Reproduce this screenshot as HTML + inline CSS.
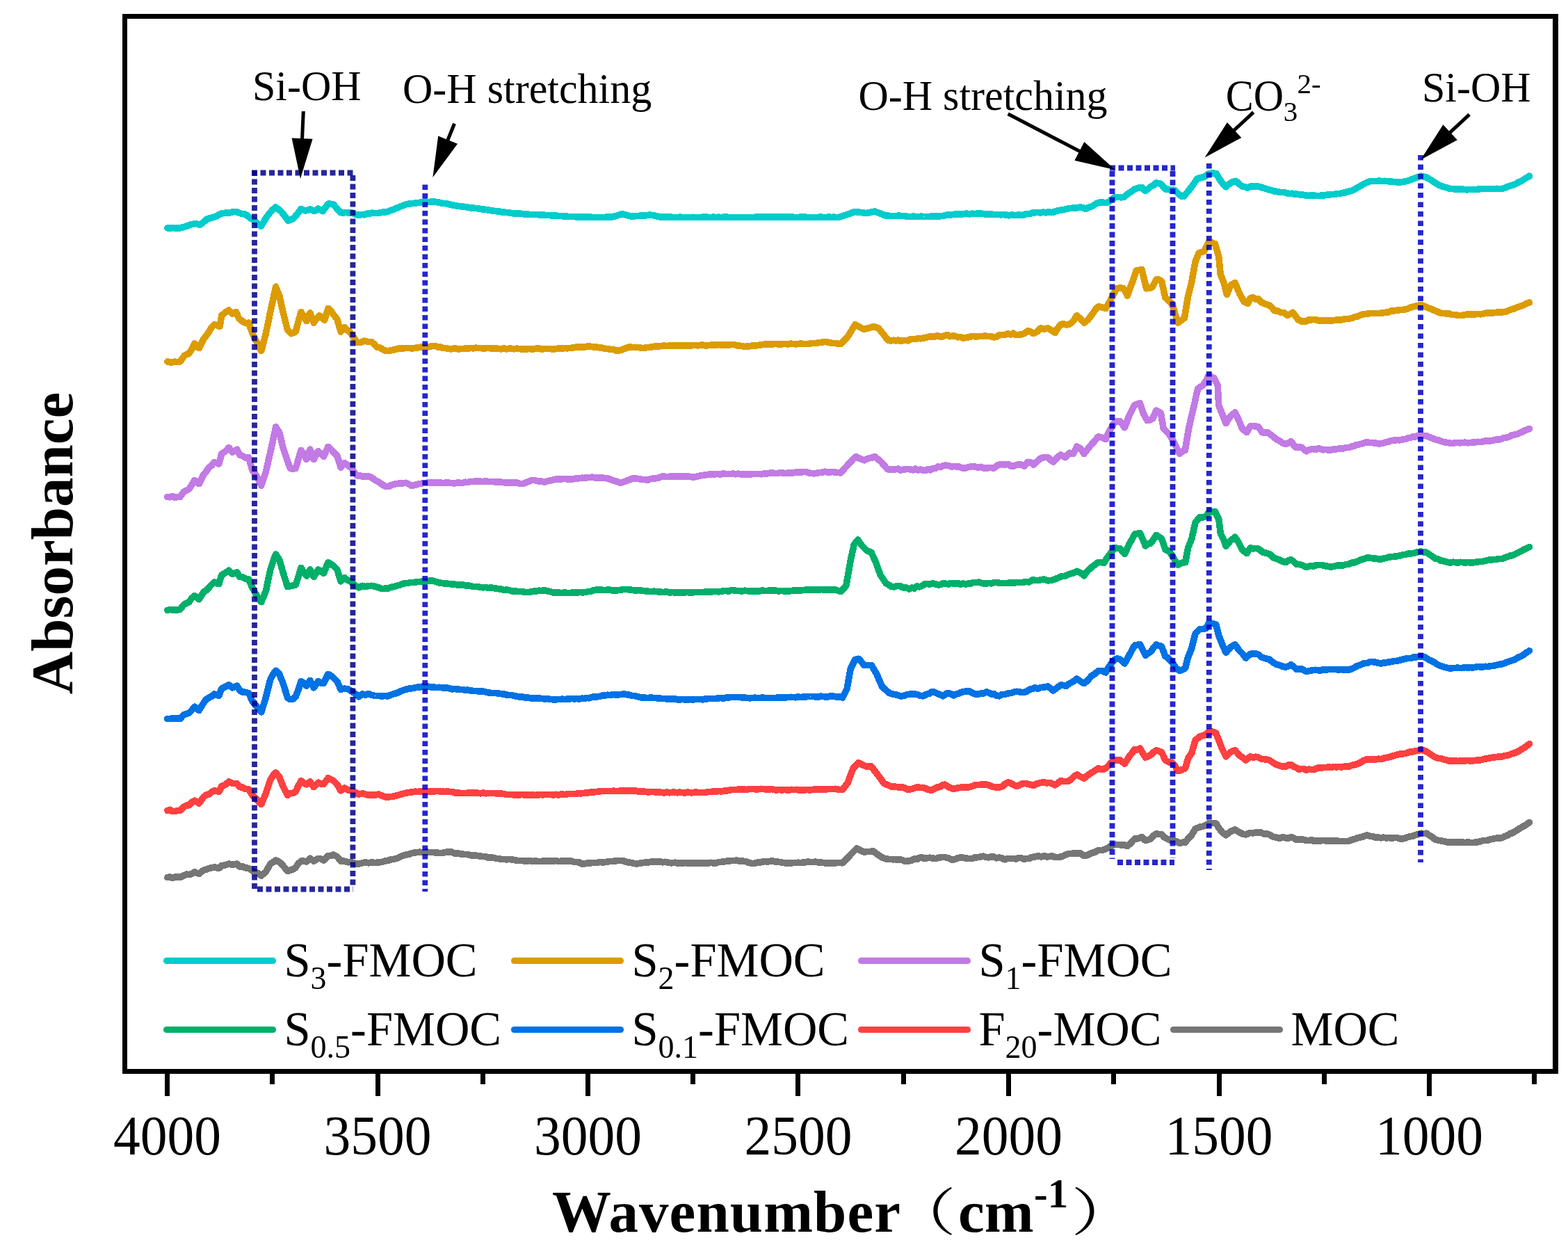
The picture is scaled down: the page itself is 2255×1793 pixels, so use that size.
<!DOCTYPE html><html><head><meta charset="utf-8"><style>html,body{margin:0;padding:0;background:#fff;overflow:hidden}svg{display:block} text{font-family:"Liberation Serif","Noto Serif CJK SC",serif;fill:#000}</style></head><body>
<svg width="2255" height="1793" viewBox="0 0 2255 1793">
<rect width="2255" height="1793" fill="#fff"/>
<path d="M240.8,1261.6 L244.4,1261.0 L248.1,1262.7 L251.7,1260.9 L255.3,1261.0 L259.0,1261.6 L264.2,1259.0 L268.1,1257.1 L271.9,1257.7 L275.8,1256.5 L279.7,1253.8 L286.2,1256.4 L292.7,1251.2 L296.6,1250.2 L300.5,1248.6 L304.4,1247.7 L308.3,1246.8 L314.8,1248.6 L318.7,1244.7 L323.9,1243.8 L329.1,1242.1 L334.3,1243.4 L340.8,1242.1 L344.7,1246.0 L348.6,1245.7 L352.5,1247.8 L356.4,1248.2 L360.3,1249.9 L365.5,1253.8 L370.6,1255.3 L375.8,1259.0 L382.3,1253.8 L388.8,1242.1 L392.7,1239.8 L396.6,1236.9 L401.8,1239.5 L407.0,1244.7 L413.5,1252.5 L417.4,1251.2 L421.3,1249.9 L425.2,1247.3 L429.1,1241.5 L433.0,1238.2 L436.9,1238.1 L440.8,1239.0 L446.0,1234.3 L451.2,1238.2 L457.7,1234.3 L461.6,1235.0 L465.5,1236.9 L471.9,1230.4 L475.8,1230.4 L479.7,1229.1 L484.9,1231.7 L490.1,1238.2 L495.3,1238.2 L500.5,1239.8 L505.7,1239.5 L510.9,1242.0 L516.1,1242.1 L521.3,1240.8 L525.6,1239.8 L530.0,1240.8 L534.3,1240.0 L539.5,1240.4 L544.7,1240.0 L549.0,1239.4 L553.3,1238.2 L557.7,1237.4 L562.0,1236.0 L566.3,1235.3 L570.6,1234.3 L575.0,1232.3 L579.3,1230.3 L583.6,1229.1 L588.0,1228.4 L592.3,1226.7 L596.6,1226.0 L600.3,1225.5 L603.9,1225.2 L607.5,1225.6 L611.2,1225.3 L614.8,1225.2 L619.0,1225.5 L623.1,1225.6 L627.3,1226.0 L631.4,1226.4 L635.6,1226.5 L640.8,1225.3 L646.0,1225.2 L649.9,1225.2 L653.8,1227.1 L657.7,1226.6 L661.6,1227.8 L665.3,1228.2 L669.0,1228.4 L672.7,1228.5 L676.4,1229.8 L680.1,1229.8 L683.8,1230.2 L687.5,1230.4 L691.2,1231.2 L695.0,1231.5 L698.7,1231.9 L702.4,1233.1 L706.1,1232.9 L709.8,1233.3 L713.5,1234.3 L717.2,1234.7 L720.9,1235.4 L724.6,1235.5 L728.3,1235.8 L732.1,1235.5 L735.8,1235.9 L739.5,1236.4 L743.4,1237.3 L747.3,1237.4 L751.2,1237.5 L755.1,1238.2 L758.8,1237.8 L762.5,1237.6 L766.2,1238.4 L769.9,1238.1 L773.7,1238.4 L777.4,1238.7 L781.1,1238.0 L784.8,1237.9 L788.5,1237.9 L792.3,1238.0 L796.0,1238.2 L799.7,1237.6 L803.4,1238.4 L807.1,1238.2 L810.8,1237.8 L814.5,1237.7 L818.2,1238.1 L821.9,1238.2 L825.6,1239.3 L829.2,1239.5 L832.9,1240.0 L836.5,1241.9 L840.1,1242.1 L843.9,1241.2 L847.6,1241.0 L851.4,1240.6 L855.1,1240.5 L858.9,1240.5 L862.6,1239.5 L866.4,1239.9 L870.1,1239.7 L873.9,1239.0 L877.5,1238.3 L881.2,1238.4 L884.8,1238.1 L888.4,1237.3 L892.1,1237.4 L896.0,1237.6 L899.9,1239.0 L903.8,1239.9 L907.7,1240.5 L911.6,1241.3 L915.5,1242.1 L919.4,1241.3 L923.2,1240.8 L927.1,1240.2 L931.0,1240.3 L934.9,1239.3 L938.8,1239.0 L942.4,1238.7 L945.9,1238.7 L949.5,1238.9 L953.0,1239.8 L956.5,1239.3 L960.1,1240.1 L963.6,1240.7 L967.2,1240.7 L970.7,1240.2 L974.3,1241.1 L977.8,1240.8 L981.5,1240.8 L985.2,1240.7 L988.9,1240.8 L992.6,1241.2 L996.3,1241.2 L1000.1,1240.6 L1003.8,1241.3 L1007.5,1241.0 L1011.2,1241.3 L1014.9,1240.8 L1018.6,1241.0 L1022.3,1240.3 L1026.0,1241.1 L1029.7,1240.8 L1033.5,1239.7 L1037.2,1239.3 L1040.9,1239.2 L1044.6,1238.3 L1048.3,1238.1 L1052.0,1237.6 L1055.7,1237.4 L1060.0,1237.2 L1064.4,1238.3 L1068.7,1238.2 L1073.0,1238.7 L1077.4,1240.5 L1081.7,1241.6 L1085.4,1241.2 L1089.1,1240.2 L1092.8,1240.2 L1096.5,1239.2 L1100.2,1238.6 L1104.0,1239.1 L1107.7,1238.2 L1111.4,1238.1 L1115.1,1239.3 L1118.8,1239.1 L1122.5,1239.7 L1126.2,1240.4 L1129.9,1241.0 L1133.6,1240.8 L1137.2,1241.1 L1140.7,1240.5 L1144.3,1240.6 L1147.8,1240.2 L1151.3,1240.5 L1154.9,1240.2 L1158.4,1239.8 L1162.0,1238.9 L1165.5,1239.6 L1169.1,1239.7 L1172.6,1239.0 L1176.9,1240.0 L1181.3,1240.1 L1185.6,1240.8 L1189.3,1240.8 L1193.0,1240.8 L1196.7,1241.2 L1200.4,1241.2 L1204.1,1240.3 L1207.8,1240.6 L1211.6,1240.8 L1216.8,1236.0 L1221.9,1230.4 L1227.1,1224.8 L1232.3,1220.0 L1237.5,1222.7 L1242.7,1225.2 L1247.1,1224.4 L1251.4,1224.4 L1255.7,1223.9 L1260.0,1226.9 L1264.4,1230.2 L1268.7,1233.0 L1273.9,1234.8 L1279.1,1235.6 L1282.7,1235.7 L1286.4,1235.7 L1290.0,1235.8 L1293.6,1235.7 L1297.3,1236.4 L1301.2,1238.5 L1305.1,1238.2 L1310.3,1237.4 L1315.5,1234.8 L1319.0,1235.6 L1322.5,1233.2 L1326.0,1233.0 L1329.5,1234.7 L1333.0,1233.8 L1337.3,1233.2 L1341.6,1234.1 L1346.0,1234.5 L1350.3,1233.0 L1354.6,1232.6 L1359.0,1232.7 L1364.2,1233.8 L1369.4,1236.4 L1373.2,1235.5 L1377.1,1234.0 L1381.0,1232.9 L1384.9,1233.2 L1389.3,1234.0 L1393.6,1234.5 L1397.9,1234.5 L1402.3,1232.9 L1406.6,1232.7 L1410.9,1231.9 L1414.5,1231.2 L1418.2,1232.6 L1421.8,1232.8 L1425.5,1231.9 L1429.1,1231.9 L1433.0,1233.8 L1436.9,1232.9 L1440.8,1233.8 L1444.7,1235.8 L1449.0,1234.5 L1453.3,1234.6 L1457.7,1234.5 L1461.3,1235.0 L1464.9,1233.4 L1468.6,1233.5 L1472.2,1235.4 L1475.8,1234.5 L1480.2,1234.3 L1484.5,1232.4 L1488.8,1231.9 L1493.2,1230.7 L1497.5,1231.9 L1501.8,1230.6 L1505.7,1232.0 L1509.6,1231.4 L1513.5,1230.9 L1517.4,1232.7 L1522.6,1232.6 L1527.8,1231.2 L1532.1,1229.3 L1536.5,1227.5 L1540.8,1227.5 L1545.1,1226.7 L1549.4,1227.0 L1553.8,1226.8 L1559.0,1230.6 L1564.2,1229.5 L1569.4,1226.8 L1574.5,1225.3 L1579.7,1222.3 L1584.9,1222.7 L1590.1,1220.8 L1595.3,1217.9 L1600.5,1215.1 L1604.8,1214.3 L1609.2,1214.6 L1613.5,1215.1 L1617.4,1215.1 L1621.3,1216.4 L1626.5,1212.2 L1631.7,1206.0 L1636.9,1205.7 L1642.1,1203.4 L1647.3,1208.6 L1651.2,1207.4 L1655.1,1206.0 L1659.0,1201.5 L1662.9,1199.0 L1666.8,1199.4 L1670.6,1199.5 L1674.5,1204.0 L1678.4,1206.0 L1683.6,1208.4 L1688.8,1208.6 L1692.7,1210.3 L1696.6,1212.5 L1700.6,1211.3 L1704.7,1211.2 L1708.6,1206.0 L1713.8,1200.8 L1719.0,1191.7 L1725.5,1189.1 L1730.0,1188.1 L1734.5,1186.5 L1738.4,1183.9 L1743.6,1183.3 L1748.8,1183.9 L1752.7,1190.4 L1757.9,1196.9 L1763.1,1200.8 L1769.6,1195.6 L1776.1,1193.0 L1782.6,1196.9 L1787.1,1199.1 L1791.7,1200.0 L1798.2,1197.4 L1802.1,1197.9 L1806.0,1197.0 L1809.9,1196.9 L1813.8,1197.2 L1817.7,1199.0 L1821.6,1198.9 L1825.5,1200.0 L1830.6,1203.2 L1835.8,1204.2 L1840.2,1205.5 L1844.5,1203.7 L1848.8,1204.7 L1852.7,1205.3 L1856.6,1203.4 L1860.5,1205.0 L1864.4,1207.3 L1868.0,1207.1 L1871.6,1206.8 L1875.1,1207.4 L1878.7,1208.6 L1882.4,1208.6 L1886.1,1207.4 L1889.7,1209.5 L1893.4,1208.9 L1897.1,1209.4 L1900.8,1208.6 L1904.3,1208.5 L1907.9,1209.1 L1911.4,1208.7 L1914.9,1208.9 L1918.5,1208.9 L1922.0,1208.9 L1925.6,1209.4 L1929.1,1209.3 L1932.7,1209.5 L1936.2,1209.7 L1939.7,1209.4 L1944.1,1207.6 L1948.4,1206.4 L1952.7,1204.7 L1957.1,1203.9 L1961.4,1202.6 L1965.7,1200.8 L1970.0,1202.2 L1974.4,1202.8 L1978.7,1204.2 L1982.4,1204.0 L1986.1,1204.8 L1989.8,1204.1 L1993.5,1205.0 L1997.3,1204.6 L2001.0,1204.9 L2004.7,1204.7 L2009.0,1204.6 L2013.3,1205.8 L2017.7,1206.0 L2021.4,1204.9 L2025.1,1203.3 L2028.8,1202.6 L2032.5,1202.0 L2036.2,1200.4 L2039.9,1199.7 L2043.6,1198.2 L2047.5,1198.6 L2051.4,1198.2 L2055.8,1201.2 L2060.1,1203.9 L2064.4,1207.3 L2068.6,1208.3 L2072.7,1209.0 L2076.9,1209.7 L2081.0,1210.9 L2085.2,1211.2 L2088.8,1210.7 L2092.5,1211.1 L2096.1,1211.3 L2099.7,1210.9 L2103.4,1210.7 L2107.0,1211.6 L2110.6,1210.9 L2114.3,1211.5 L2117.9,1211.6 L2121.6,1211.2 L2125.3,1210.8 L2129.0,1209.8 L2132.7,1208.5 L2136.4,1208.7 L2140.1,1208.0 L2143.8,1206.8 L2147.5,1206.0 L2151.9,1205.2 L2156.2,1204.9 L2160.5,1204.7 L2164.2,1202.5 L2167.8,1201.3 L2171.4,1198.7 L2175.1,1197.7 L2178.7,1195.6 L2183.9,1192.2 L2189.1,1189.1 L2194.3,1186.1 L2199.5,1182.6" fill="none" stroke="#767676" stroke-width="9.6" stroke-linejoin="round" stroke-linecap="round" shape-rendering="crispEdges"/>
<path d="M240.8,1165.5 L244.4,1164.3 L248.1,1166.6 L251.7,1166.6 L255.3,1165.4 L259.0,1165.5 L264.2,1160.3 L268.1,1158.2 L271.9,1157.7 L275.8,1153.7 L279.7,1151.2 L286.2,1155.1 L292.7,1146.0 L296.6,1142.9 L300.5,1142.1 L304.4,1138.8 L308.3,1136.9 L314.8,1138.2 L318.7,1130.4 L323.9,1128.4 L329.1,1123.9 L334.3,1126.5 L340.8,1126.5 L344.7,1131.7 L348.6,1132.0 L352.5,1134.3 L357.7,1135.1 L362.9,1143.4 L369.4,1149.9 L375.8,1156.4 L382.3,1140.8 L388.8,1121.3 L392.7,1115.1 L396.6,1110.9 L401.8,1117.4 L407.0,1130.4 L413.5,1143.4 L417.4,1140.8 L421.3,1140.6 L425.2,1138.2 L429.1,1129.9 L433.0,1122.6 L436.9,1126.3 L440.8,1127.8 L446.0,1123.9 L451.2,1131.7 L457.7,1125.2 L461.6,1126.9 L465.5,1127.3 L471.9,1118.7 L475.8,1120.5 L479.7,1122.6 L484.9,1127.8 L490.1,1136.9 L495.3,1133.0 L500.5,1135.9 L505.7,1136.9 L510.9,1139.3 L516.1,1142.1 L521.3,1140.8 L525.6,1142.1 L530.0,1143.2 L534.3,1142.9 L539.5,1143.0 L544.7,1142.1 L549.0,1144.0 L553.3,1145.7 L557.7,1146.0 L562.0,1145.6 L566.3,1145.1 L570.6,1143.9 L575.0,1142.6 L579.3,1141.3 L583.6,1140.3 L588.0,1139.4 L592.3,1139.0 L596.6,1138.2 L600.3,1138.4 L603.9,1138.1 L607.5,1137.9 L611.2,1138.1 L614.8,1138.2 L619.0,1138.2 L623.1,1138.1 L627.3,1137.5 L631.4,1137.7 L635.6,1137.7 L639.3,1138.4 L643.0,1137.9 L646.7,1138.5 L650.4,1138.5 L654.1,1139.8 L657.8,1140.2 L661.6,1140.3 L665.3,1140.5 L669.0,1140.6 L672.7,1140.2 L676.4,1140.2 L680.1,1139.8 L683.8,1139.7 L687.5,1140.3 L691.2,1140.8 L695.0,1140.1 L698.7,1140.8 L702.4,1140.3 L706.1,1140.6 L709.8,1140.5 L713.5,1140.8 L717.2,1141.0 L720.9,1141.1 L724.6,1141.5 L728.3,1142.4 L732.1,1142.5 L735.8,1142.6 L739.5,1142.9 L743.2,1143.1 L746.9,1143.0 L750.6,1142.4 L754.3,1142.9 L758.0,1143.0 L761.7,1142.8 L765.5,1142.9 L769.3,1143.4 L773.1,1143.0 L776.9,1142.5 L780.7,1142.8 L784.5,1142.4 L788.3,1142.7 L792.2,1142.6 L796.0,1142.9 L799.5,1142.3 L803.1,1143.0 L806.6,1141.9 L810.1,1142.3 L813.7,1142.4 L817.2,1141.3 L820.8,1141.4 L824.3,1141.3 L827.9,1141.5 L831.4,1140.6 L834.9,1140.8 L838.6,1140.6 L842.4,1140.0 L846.1,1139.9 L849.8,1139.1 L853.5,1139.0 L857.2,1138.5 L860.9,1138.2 L864.5,1137.6 L868.0,1137.6 L871.5,1137.6 L875.1,1137.5 L878.6,1137.6 L882.2,1137.2 L885.7,1137.5 L889.2,1137.5 L892.8,1137.0 L896.3,1137.3 L899.9,1136.9 L903.6,1137.1 L907.3,1137.0 L911.0,1137.0 L914.7,1137.0 L918.4,1138.2 L922.1,1138.3 L925.8,1137.9 L929.6,1138.7 L933.3,1138.9 L937.0,1138.4 L940.7,1138.7 L944.4,1139.0 L948.1,1139.0 L951.8,1139.5 L955.5,1140.0 L959.2,1139.0 L962.9,1139.8 L966.7,1139.2 L970.4,1139.2 L974.1,1139.8 L977.8,1139.1 L981.5,1139.7 L985.2,1139.9 L988.9,1139.1 L992.6,1139.7 L996.3,1139.7 L1000.1,1138.9 L1003.8,1139.5 L1007.5,1139.5 L1011.2,1139.5 L1014.9,1139.4 L1018.6,1138.5 L1022.3,1138.4 L1026.0,1138.1 L1029.7,1138.2 L1033.5,1137.4 L1037.2,1137.9 L1040.9,1137.2 L1044.6,1136.9 L1048.3,1136.5 L1052.0,1135.6 L1055.7,1135.6 L1059.3,1135.5 L1062.8,1134.7 L1066.3,1135.2 L1069.9,1134.8 L1073.4,1135.6 L1077.0,1134.6 L1080.5,1134.6 L1084.0,1134.6 L1087.6,1134.9 L1091.1,1134.7 L1094.7,1134.3 L1098.4,1134.7 L1102.1,1134.8 L1105.8,1135.3 L1109.5,1134.4 L1113.2,1135.7 L1116.9,1135.8 L1120.6,1135.6 L1124.2,1135.9 L1127.7,1135.6 L1131.3,1135.8 L1134.8,1136.0 L1138.4,1135.3 L1141.9,1135.6 L1145.4,1135.3 L1149.0,1136.1 L1152.5,1136.0 L1156.1,1136.1 L1159.6,1135.6 L1163.4,1135.8 L1167.2,1135.7 L1170.9,1135.1 L1174.7,1135.1 L1178.5,1135.1 L1182.3,1135.1 L1186.1,1135.2 L1189.8,1134.6 L1193.6,1134.7 L1197.4,1134.6 L1201.2,1134.3 L1206.4,1135.3 L1211.6,1135.6 L1215.5,1130.2 L1219.4,1125.2 L1223.2,1114.4 L1227.1,1104.4 L1231.0,1100.5 L1234.9,1096.6 L1240.1,1099.7 L1245.3,1101.8 L1249.2,1102.2 L1253.1,1101.8 L1257.0,1107.2 L1260.9,1112.2 L1266.1,1119.0 L1271.3,1126.5 L1276.5,1128.7 L1281.7,1130.9 L1285.6,1130.8 L1289.5,1131.6 L1293.4,1132.2 L1297.3,1131.7 L1301.2,1133.0 L1305.1,1135.1 L1310.3,1134.7 L1315.5,1133.0 L1319.2,1131.9 L1322.9,1132.3 L1326.7,1132.5 L1330.4,1133.2 L1335.6,1135.7 L1340.8,1135.8 L1344.4,1133.8 L1348.1,1132.0 L1351.7,1131.6 L1355.3,1128.8 L1359.0,1128.1 L1364.2,1131.6 L1369.4,1134.0 L1373.2,1134.1 L1377.1,1132.9 L1381.0,1132.3 L1384.9,1131.9 L1389.3,1132.1 L1393.6,1131.7 L1397.9,1130.6 L1402.3,1128.8 L1406.6,1128.6 L1410.9,1128.1 L1414.8,1128.1 L1418.7,1128.1 L1423.0,1129.3 L1427.4,1131.1 L1431.7,1131.9 L1436.9,1132.0 L1442.1,1130.6 L1446.0,1126.7 L1449.9,1124.7 L1455.1,1127.0 L1460.3,1129.9 L1464.2,1129.9 L1468.1,1127.6 L1471.9,1126.3 L1475.8,1126.8 L1481.0,1128.0 L1486.2,1129.4 L1491.4,1126.7 L1496.6,1125.5 L1501.0,1124.7 L1505.3,1125.8 L1509.6,1125.5 L1513.5,1127.0 L1517.4,1128.8 L1521.3,1126.0 L1525.2,1122.9 L1529.1,1123.4 L1533.0,1123.6 L1536.9,1123.1 L1540.8,1120.3 L1544.7,1116.2 L1548.6,1113.8 L1553.8,1116.7 L1559.0,1119.0 L1564.2,1114.9 L1569.4,1111.2 L1574.5,1108.1 L1579.7,1104.7 L1583.6,1106.3 L1587.5,1106.0 L1591.4,1103.7 L1595.3,1099.5 L1599.2,1095.5 L1603.1,1093.0 L1607.0,1092.8 L1610.9,1093.0 L1617.4,1098.2 L1623.9,1087.8 L1627.8,1083.0 L1631.7,1077.4 L1635.6,1077.9 L1639.5,1076.1 L1643.4,1082.8 L1647.3,1089.1 L1651.2,1087.8 L1655.1,1085.2 L1659.0,1081.4 L1662.9,1078.7 L1666.8,1080.2 L1670.6,1081.3 L1675.8,1093.0 L1681.0,1095.9 L1686.2,1096.9 L1690.1,1101.9 L1694.0,1108.6 L1697.6,1107.7 L1701.1,1106.1 L1704.7,1104.7 L1708.6,1090.4 L1713.8,1082.6 L1719.0,1064.4 L1725.5,1059.2 L1730.0,1057.5 L1734.5,1056.6 L1738.4,1051.4 L1743.6,1052.1 L1748.8,1054.0 L1752.7,1064.4 L1757.9,1077.4 L1763.1,1087.8 L1769.6,1081.3 L1776.1,1078.7 L1782.6,1086.5 L1787.1,1089.2 L1791.7,1093.0 L1798.2,1087.8 L1802.1,1089.3 L1806.0,1088.1 L1809.9,1089.1 L1813.8,1091.2 L1817.7,1091.7 L1821.6,1092.0 L1825.5,1093.0 L1830.6,1096.4 L1835.8,1099.5 L1840.2,1100.9 L1844.5,1102.2 L1848.8,1102.1 L1852.7,1100.1 L1856.6,1099.5 L1860.5,1102.3 L1864.4,1103.9 L1868.0,1106.0 L1871.6,1105.6 L1875.1,1105.4 L1878.7,1107.3 L1882.4,1106.2 L1886.1,1106.4 L1889.7,1106.8 L1893.4,1104.9 L1897.1,1103.6 L1900.8,1103.9 L1904.3,1103.6 L1907.9,1103.3 L1911.4,1103.0 L1914.9,1103.4 L1918.5,1102.5 L1922.0,1103.0 L1925.6,1102.5 L1929.1,1102.9 L1932.7,1102.2 L1936.2,1102.0 L1939.7,1102.1 L1944.1,1100.5 L1948.4,1099.5 L1952.7,1098.2 L1957.1,1096.1 L1961.4,1093.3 L1965.7,1091.7 L1969.9,1092.2 L1974.0,1091.9 L1978.2,1092.1 L1982.3,1091.2 L1986.5,1091.7 L1990.1,1090.1 L1993.8,1089.4 L1997.4,1088.7 L2001.0,1087.7 L2004.7,1086.5 L2009.0,1085.2 L2013.3,1084.2 L2017.7,1083.9 L2021.4,1083.4 L2025.1,1081.9 L2028.8,1080.8 L2032.5,1080.8 L2036.2,1079.7 L2039.9,1079.3 L2043.6,1077.9 L2047.5,1079.2 L2051.4,1080.5 L2055.8,1083.6 L2060.1,1086.4 L2064.4,1089.1 L2068.6,1090.3 L2072.7,1090.6 L2076.9,1092.1 L2081.0,1093.1 L2085.2,1094.3 L2088.8,1094.1 L2092.5,1093.6 L2096.1,1094.5 L2099.7,1093.9 L2103.4,1094.3 L2107.0,1094.1 L2110.6,1093.4 L2114.3,1094.0 L2117.9,1093.9 L2121.6,1093.5 L2125.3,1092.9 L2129.0,1092.8 L2132.7,1092.0 L2136.4,1090.9 L2140.1,1090.6 L2143.8,1089.5 L2147.5,1089.1 L2151.9,1088.6 L2156.2,1087.9 L2160.5,1087.8 L2164.2,1086.5 L2167.8,1086.1 L2171.4,1085.0 L2175.1,1083.4 L2178.7,1082.6 L2183.9,1080.1 L2189.1,1076.9 L2194.3,1073.6 L2199.5,1069.6" fill="none" stroke="#FF4040" stroke-width="9.6" stroke-linejoin="round" stroke-linecap="round" shape-rendering="crispEdges"/>
<path d="M240.8,1033.5 L244.4,1033.6 L248.1,1032.9 L251.7,1032.9 L255.3,1032.7 L259.0,1033.5 L264.2,1027.8 L268.1,1026.5 L271.9,1025.2 L275.8,1021.4 L279.7,1016.1 L286.2,1021.3 L292.7,1010.9 L296.6,1005.7 L300.5,1003.1 L304.4,1001.2 L308.3,997.9 L314.8,1000.5 L318.7,990.1 L323.9,987.6 L329.1,984.9 L334.3,988.8 L340.8,986.2 L344.7,992.7 L348.6,995.2 L352.5,995.3 L357.7,996.6 L362.9,1008.3 L369.4,1016.1 L375.8,1023.9 L382.3,1003.1 L388.8,977.1 L392.7,969.5 L396.6,964.2 L401.8,969.4 L407.0,982.3 L413.5,1003.1 L417.4,1005.7 L421.3,1005.0 L425.2,1001.8 L429.1,991.8 L433.0,979.7 L436.9,981.9 L440.8,986.2 L446.0,978.4 L451.2,988.8 L457.7,979.7 L461.6,982.2 L465.5,982.3 L471.9,969.4 L475.8,971.6 L479.7,974.5 L484.9,979.7 L490.1,991.4 L495.3,990.1 L500.5,990.8 L505.7,994.0 L510.9,997.6 L516.1,1001.8 L521.3,997.9 L525.6,999.3 L530.0,997.7 L534.3,999.2 L539.5,1000.5 L544.7,1000.5 L549.0,1001.0 L553.3,1000.5 L557.7,1001.0 L562.0,999.2 L566.3,997.6 L570.6,996.6 L575.0,994.4 L579.3,992.8 L583.6,991.4 L588.0,990.1 L592.3,989.8 L596.6,988.8 L600.3,988.2 L603.9,988.2 L607.5,987.2 L611.2,987.8 L614.8,987.0 L619.0,987.9 L623.1,987.7 L627.3,988.6 L631.4,988.3 L635.6,988.8 L639.3,988.7 L643.0,989.0 L646.7,990.0 L650.4,990.8 L654.1,990.6 L657.8,990.9 L661.6,991.4 L665.3,991.5 L669.0,992.4 L672.7,992.1 L676.4,992.9 L680.1,993.3 L683.8,993.3 L687.5,994.0 L691.2,993.9 L695.0,994.2 L698.7,995.1 L702.4,995.8 L706.1,996.4 L709.8,996.7 L713.5,996.6 L717.2,997.0 L720.9,997.7 L724.6,997.9 L728.3,999.1 L732.1,999.4 L735.8,999.5 L739.5,1000.5 L743.4,1001.3 L747.3,1002.2 L751.2,1002.1 L755.1,1003.1 L758.6,1002.9 L762.2,1003.7 L765.7,1004.2 L769.3,1004.3 L772.8,1003.7 L776.3,1004.1 L779.9,1004.6 L783.4,1004.9 L787.0,1004.6 L790.5,1005.3 L794.1,1005.7 L797.6,1005.7 L801.2,1005.7 L804.7,1005.5 L808.3,1005.2 L811.8,1005.6 L815.3,1005.2 L818.9,1005.0 L822.4,1004.5 L826.0,1004.9 L829.5,1004.6 L833.0,1005.2 L836.6,1004.2 L840.1,1004.4 L843.9,1003.5 L847.6,1003.8 L851.4,1002.3 L855.1,1001.7 L858.9,1001.9 L862.6,1001.2 L866.4,1000.2 L870.1,999.9 L873.9,999.2 L877.8,999.6 L881.7,998.6 L885.6,998.9 L889.5,998.9 L893.4,998.4 L897.3,997.9 L901.2,998.6 L905.1,999.2 L909.0,1000.4 L912.9,1000.5 L916.8,1001.6 L920.6,1002.6 L924.5,1003.2 L928.4,1003.3 L932.3,1003.5 L936.2,1002.9 L940.1,1003.7 L944.0,1003.6 L947.9,1004.1 L951.8,1004.4 L955.5,1004.4 L959.2,1005.1 L962.9,1005.1 L966.5,1004.7 L970.2,1004.8 L973.9,1005.8 L977.6,1006.0 L981.3,1005.4 L984.9,1006.0 L988.6,1006.3 L992.3,1005.5 L996.0,1006.2 L999.7,1005.6 L1003.5,1005.6 L1007.2,1005.5 L1011.0,1005.9 L1014.7,1004.8 L1018.5,1004.7 L1022.2,1004.5 L1026.0,1004.6 L1029.7,1004.4 L1033.5,1003.8 L1037.2,1003.6 L1040.9,1004.2 L1044.6,1003.1 L1048.3,1002.8 L1052.0,1002.6 L1055.7,1002.6 L1059.4,1002.7 L1063.1,1002.5 L1066.8,1002.9 L1070.6,1003.0 L1074.3,1003.5 L1078.0,1003.8 L1081.7,1003.6 L1085.4,1003.2 L1089.1,1003.4 L1092.8,1003.5 L1096.5,1002.9 L1100.2,1003.7 L1104.0,1003.3 L1107.7,1003.6 L1111.4,1003.4 L1115.1,1003.5 L1118.8,1003.0 L1122.5,1003.3 L1126.2,1002.9 L1129.9,1002.9 L1133.6,1002.6 L1137.2,1002.3 L1140.7,1002.6 L1144.3,1002.8 L1147.8,1001.8 L1151.3,1002.7 L1154.9,1002.1 L1158.4,1002.1 L1162.0,1001.5 L1165.5,1001.6 L1169.1,1001.6 L1172.6,1001.8 L1176.3,1002.2 L1180.0,1001.2 L1183.7,1001.5 L1187.4,1001.9 L1191.2,1001.9 L1194.9,1000.7 L1198.6,1001.0 L1202.9,1002.0 L1207.2,1001.8 L1211.6,1003.1 L1218.1,990.1 L1223.2,961.6 L1229.7,948.6 L1234.9,947.3 L1238.8,951.6 L1242.7,956.4 L1247.9,956.5 L1253.1,956.4 L1257.0,962.9 L1260.9,969.4 L1264.8,978.7 L1268.7,987.5 L1273.9,992.0 L1279.1,996.6 L1283.2,997.9 L1287.4,998.5 L1291.6,999.8 L1295.7,1001.0 L1299.9,1000.5 L1303.8,998.9 L1307.7,998.3 L1311.6,997.8 L1315.5,997.9 L1319.6,998.7 L1323.7,1000.6 L1327.8,1000.8 L1332.1,998.3 L1336.5,997.4 L1340.8,994.3 L1344.7,995.6 L1348.6,997.4 L1352.5,999.1 L1356.4,1000.8 L1361.6,996.9 L1366.8,997.3 L1371.9,1000.0 L1375.6,998.0 L1379.2,997.0 L1382.9,995.1 L1386.5,994.6 L1390.1,993.8 L1394.5,994.1 L1398.8,996.5 L1403.1,998.2 L1407.0,998.0 L1410.9,997.0 L1414.8,996.9 L1418.7,994.8 L1422.3,996.3 L1426.0,998.0 L1429.6,997.7 L1433.2,1000.5 L1436.9,1000.8 L1441.2,998.4 L1445.5,998.3 L1449.9,996.9 L1454.2,996.5 L1458.5,994.9 L1462.9,994.3 L1466.8,995.0 L1470.6,995.6 L1475.8,994.6 L1481.0,991.2 L1484.9,990.5 L1488.8,988.6 L1492.7,990.4 L1496.6,988.6 L1501.8,988.1 L1507.0,987.0 L1510.9,990.0 L1514.8,993.0 L1520.0,988.9 L1525.2,985.2 L1529.1,985.3 L1533.0,986.5 L1536.9,983.6 L1540.8,981.3 L1544.7,979.2 L1548.6,976.1 L1553.8,979.5 L1559.0,982.6 L1564.2,978.7 L1569.4,972.2 L1574.5,969.0 L1579.7,964.4 L1584.9,964.4 L1590.1,967.0 L1595.3,957.9 L1599.2,952.6 L1603.1,948.1 L1607.0,947.0 L1610.9,948.1 L1617.4,954.0 L1623.9,942.3 L1627.8,934.9 L1631.7,928.1 L1635.6,927.2 L1639.5,926.8 L1643.4,934.4 L1647.3,942.3 L1651.2,939.4 L1655.1,937.1 L1659.0,931.2 L1662.9,926.8 L1666.8,928.5 L1670.6,929.4 L1675.8,943.6 L1679.7,945.9 L1683.6,950.1 L1687.5,955.0 L1691.4,960.5 L1696.6,964.4 L1700.6,963.0 L1704.7,960.5 L1708.6,944.9 L1713.8,931.9 L1719.0,911.2 L1725.5,904.7 L1730.0,904.6 L1734.5,903.4 L1738.4,895.6 L1743.6,896.4 L1748.8,898.2 L1752.7,913.8 L1757.9,926.8 L1763.1,938.4 L1769.6,930.6 L1776.1,926.8 L1782.6,935.8 L1787.1,940.0 L1791.7,946.2 L1798.2,940.3 L1802.1,940.2 L1806.0,940.0 L1809.9,941.0 L1813.8,944.7 L1817.7,946.2 L1821.6,947.1 L1825.5,948.1 L1830.6,952.3 L1835.8,955.3 L1840.2,956.4 L1844.5,958.3 L1848.8,959.2 L1852.7,958.0 L1856.6,955.8 L1860.5,958.6 L1864.4,962.6 L1868.3,961.8 L1872.2,961.8 L1878.7,965.7 L1883.2,964.5 L1887.8,963.6 L1891.5,963.3 L1895.2,963.7 L1898.9,964.4 L1902.6,962.5 L1906.3,963.1 L1910.1,962.7 L1913.8,962.6 L1917.5,962.4 L1921.2,962.6 L1924.9,963.1 L1928.6,962.5 L1932.3,963.1 L1936.0,963.1 L1939.7,963.1 L1943.4,961.9 L1947.0,960.3 L1950.6,958.2 L1954.3,956.8 L1957.9,955.3 L1962.3,953.5 L1966.6,953.3 L1970.9,951.4 L1974.8,951.7 L1978.7,952.4 L1982.6,953.4 L1986.5,954.0 L1990.1,953.0 L1993.8,952.7 L1997.4,952.0 L2001.0,951.6 L2004.7,950.6 L2009.0,950.3 L2013.3,949.2 L2017.7,948.1 L2021.4,947.2 L2025.1,946.4 L2028.8,946.6 L2032.5,945.1 L2036.2,945.0 L2039.9,944.4 L2043.6,943.6 L2047.5,944.4 L2051.4,946.2 L2055.1,948.8 L2058.7,950.3 L2062.3,952.1 L2066.0,954.7 L2069.6,956.6 L2073.5,958.0 L2077.4,959.2 L2081.3,960.2 L2085.2,961.0 L2088.8,960.7 L2092.5,960.5 L2096.1,960.0 L2099.7,960.7 L2103.4,960.4 L2107.0,959.5 L2110.6,960.2 L2114.3,959.5 L2117.9,960.0 L2121.6,959.2 L2125.3,958.6 L2129.0,958.8 L2132.7,958.9 L2136.4,958.3 L2140.1,958.5 L2143.8,957.5 L2147.5,957.4 L2151.9,956.4 L2156.2,955.3 L2160.5,954.8 L2164.2,953.3 L2167.8,951.8 L2171.4,950.8 L2175.1,949.4 L2178.7,948.1 L2183.9,944.9 L2189.1,942.9 L2194.3,939.0 L2199.5,935.8" fill="none" stroke="#0072E4" stroke-width="9.6" stroke-linejoin="round" stroke-linecap="round" shape-rendering="crispEdges"/>
<path d="M240.8,877.4 L244.4,876.5 L248.1,877.0 L251.7,876.8 L255.3,876.9 L259.0,876.1 L264.2,869.6 L268.1,867.4 L271.9,865.7 L275.8,859.9 L279.7,856.6 L286.2,861.8 L292.7,851.4 L296.6,848.7 L300.5,844.9 L304.4,840.4 L308.3,837.1 L314.8,839.7 L318.7,826.8 L323.9,823.8 L329.1,820.3 L334.3,825.5 L340.8,822.9 L344.7,829.4 L348.6,829.8 L352.5,831.9 L357.7,833.2 L362.9,844.9 L369.4,856.6 L375.8,865.7 L382.3,850.1 L388.8,819.0 L392.7,807.1 L396.6,796.9 L401.8,804.7 L407.0,822.9 L413.5,843.6 L420.0,842.3 L425.2,841.0 L429.1,829.4 L433.0,816.4 L436.9,823.2 L440.8,828.1 L446.0,819.0 L451.2,829.4 L457.7,819.0 L461.6,821.6 L465.5,824.2 L471.9,808.6 L475.8,810.9 L479.7,813.8 L484.9,819.0 L490.1,835.8 L495.3,830.6 L500.5,834.5 L505.7,837.1 L510.9,842.3 L516.1,844.9 L521.3,842.3 L525.6,843.6 L530.0,842.5 L534.3,842.3 L539.5,843.3 L544.7,844.9 L549.0,846.5 L553.3,846.2 L557.7,846.2 L562.0,844.4 L566.3,843.6 L570.6,842.3 L575.0,841.1 L579.3,839.3 L583.6,838.4 L587.3,838.3 L591.1,837.4 L594.8,837.5 L598.5,837.0 L602.2,836.3 L605.9,836.3 L609.6,835.8 L614.8,835.7 L620.0,834.5 L623.9,835.6 L627.8,836.6 L631.7,838.0 L635.6,838.4 L639.3,839.0 L643.0,839.0 L646.7,839.7 L650.4,839.9 L654.1,840.2 L657.8,840.9 L661.6,841.0 L665.3,840.8 L669.0,841.9 L672.7,841.7 L676.4,842.4 L680.1,843.4 L683.8,843.6 L687.5,843.6 L691.2,844.4 L695.0,844.8 L698.7,844.5 L702.4,845.5 L706.1,844.9 L709.8,845.5 L713.5,846.2 L717.2,846.6 L720.9,847.2 L724.6,848.5 L728.3,848.1 L732.1,848.4 L735.8,849.8 L739.5,850.1 L743.4,850.3 L747.3,850.3 L751.2,850.6 L755.1,851.4 L759.1,851.6 L763.0,851.1 L767.0,850.2 L771.0,849.9 L775.0,849.2 L779.0,849.4 L783.0,848.8 L787.3,849.8 L791.6,850.6 L796.0,852.2 L799.7,852.3 L803.4,851.8 L807.1,852.7 L810.8,852.0 L814.5,852.3 L818.2,852.7 L821.9,852.2 L826.1,851.8 L830.3,851.9 L834.4,851.6 L838.6,851.9 L842.7,851.4 L846.4,850.6 L850.0,850.2 L853.6,848.8 L857.3,848.1 L860.9,848.1 L864.6,847.7 L868.3,848.7 L872.0,848.3 L875.8,848.0 L879.5,848.8 L883.2,848.9 L886.9,848.8 L891.2,848.6 L895.5,847.6 L899.9,847.5 L903.6,847.7 L907.3,848.2 L911.0,848.5 L914.7,849.3 L918.4,848.6 L922.1,849.1 L925.8,849.6 L929.6,849.9 L933.3,850.5 L937.0,850.6 L940.7,850.1 L944.4,850.7 L948.1,850.8 L951.8,851.4 L955.5,851.3 L959.2,851.1 L962.9,852.1 L966.7,851.5 L970.4,851.9 L974.1,852.3 L977.8,852.2 L981.5,852.3 L985.2,851.9 L988.9,851.5 L992.6,852.4 L996.3,851.8 L1000.1,851.5 L1003.8,851.3 L1007.5,851.5 L1011.2,851.7 L1014.9,850.8 L1018.6,851.2 L1022.3,851.1 L1026.0,850.6 L1029.7,850.6 L1033.5,850.8 L1037.2,850.5 L1040.9,849.4 L1044.6,849.7 L1048.3,849.9 L1052.0,848.5 L1055.7,848.8 L1059.4,849.5 L1063.1,849.5 L1066.8,850.0 L1070.6,849.2 L1074.3,849.6 L1078.0,850.1 L1081.7,850.1 L1085.4,850.2 L1089.1,849.7 L1092.8,849.8 L1096.5,848.9 L1100.2,849.6 L1104.0,849.3 L1107.7,848.8 L1111.4,848.8 L1115.1,849.0 L1118.8,849.8 L1122.5,849.7 L1126.2,849.6 L1129.9,850.2 L1133.6,850.1 L1137.3,849.6 L1141.1,849.0 L1144.8,849.2 L1148.5,849.3 L1152.2,848.8 L1155.9,848.5 L1159.6,848.1 L1163.4,847.8 L1167.2,848.3 L1170.9,848.0 L1174.7,848.2 L1178.5,848.0 L1182.3,847.5 L1186.1,848.5 L1189.8,847.7 L1193.6,847.8 L1197.4,847.9 L1201.2,848.1 L1205.1,849.2 L1209.0,850.6 L1212.9,846.5 L1216.8,842.3 L1223.2,806.0 L1228.4,782.6 L1233.6,776.1 L1240.1,785.2 L1246.6,791.7 L1253.1,794.3 L1259.6,808.6 L1266.1,826.8 L1270.0,832.4 L1273.9,838.4 L1277.8,840.7 L1281.7,843.6 L1286.0,843.8 L1290.3,842.4 L1294.7,842.9 L1299.0,844.8 L1303.3,844.9 L1307.7,847.0 L1311.3,845.1 L1314.9,846.1 L1318.5,842.9 L1322.1,843.9 L1325.8,842.4 L1329.4,840.2 L1333.0,839.5 L1337.3,840.1 L1341.6,838.7 L1346.0,840.0 L1349.5,841.0 L1353.1,840.6 L1356.6,838.6 L1360.1,839.2 L1363.7,840.1 L1367.2,838.4 L1370.8,839.0 L1374.3,839.3 L1377.9,838.5 L1381.4,840.2 L1384.9,839.0 L1388.6,840.1 L1392.4,839.1 L1396.1,839.0 L1399.8,837.6 L1403.5,837.7 L1407.2,837.1 L1410.9,838.2 L1414.6,838.9 L1418.3,839.3 L1422.0,838.4 L1425.8,839.0 L1429.5,837.5 L1433.2,837.5 L1436.9,838.2 L1440.6,838.7 L1444.3,838.4 L1448.0,838.6 L1451.7,838.0 L1455.4,837.7 L1459.1,837.9 L1462.9,837.4 L1467.2,837.4 L1471.5,837.3 L1475.8,836.4 L1480.2,836.9 L1484.5,833.9 L1488.8,834.3 L1493.2,834.6 L1497.5,833.5 L1501.8,833.0 L1507.0,834.9 L1512.2,834.3 L1517.4,832.8 L1522.6,830.4 L1526.9,828.7 L1531.3,828.4 L1535.6,826.5 L1539.9,824.8 L1544.2,823.7 L1548.6,821.3 L1553.8,823.5 L1559.0,827.8 L1564.2,820.8 L1569.4,816.1 L1574.5,812.1 L1579.7,808.3 L1583.6,808.3 L1587.5,809.6 L1591.4,803.0 L1595.3,797.9 L1599.2,792.9 L1603.1,787.5 L1607.0,788.6 L1610.9,788.8 L1617.4,796.6 L1623.9,782.3 L1627.8,775.9 L1631.7,768.1 L1635.6,767.3 L1639.5,766.8 L1643.4,775.3 L1647.3,784.9 L1651.2,781.9 L1655.1,781.0 L1659.0,775.2 L1662.9,769.4 L1666.8,771.8 L1670.6,774.5 L1675.8,790.1 L1679.7,791.9 L1683.6,795.3 L1688.8,804.1 L1694.0,812.2 L1697.6,810.2 L1701.1,808.9 L1704.7,808.6 L1708.6,787.8 L1713.8,774.8 L1719.0,751.4 L1725.5,743.6 L1730.0,743.8 L1734.5,742.3 L1739.7,734.5 L1743.6,736.4 L1747.5,735.8 L1752.7,746.2 L1755.3,767.0 L1760.5,777.4 L1763.1,785.2 L1769.6,777.4 L1776.1,772.2 L1781.3,780.0 L1786.5,790.4 L1793.0,795.6 L1798.2,787.8 L1802.1,788.9 L1806.0,788.3 L1809.9,789.1 L1816.4,794.3 L1822.9,795.6 L1827.2,797.5 L1831.5,801.9 L1835.8,803.4 L1840.2,805.1 L1844.5,807.4 L1848.8,808.6 L1852.7,806.1 L1856.6,804.7 L1860.5,807.4 L1864.4,811.2 L1868.7,811.4 L1873.1,812.8 L1877.4,815.1 L1881.3,814.8 L1885.2,813.4 L1889.1,814.3 L1893.0,812.6 L1896.9,812.6 L1900.8,812.5 L1905.1,813.6 L1909.4,814.3 L1913.8,815.1 L1917.5,814.6 L1921.2,813.4 L1924.9,813.0 L1928.6,813.3 L1932.3,812.7 L1936.0,811.5 L1939.7,811.2 L1943.5,809.3 L1947.2,809.1 L1950.9,807.6 L1954.6,806.0 L1958.3,804.5 L1962.0,803.5 L1965.7,802.1 L1969.9,802.2 L1974.0,802.8 L1978.2,802.9 L1982.3,804.0 L1986.5,803.9 L1990.1,802.9 L1993.8,802.3 L1997.4,801.2 L2001.0,800.7 L2004.7,800.3 L2009.0,799.9 L2013.3,799.0 L2017.7,797.7 L2021.4,797.5 L2025.1,796.1 L2028.8,795.9 L2032.5,795.6 L2036.2,794.5 L2039.9,793.5 L2043.6,793.0 L2047.5,793.9 L2051.4,794.3 L2055.8,797.2 L2060.1,800.1 L2064.4,803.4 L2068.1,803.8 L2071.7,805.9 L2075.3,806.5 L2079.0,807.5 L2082.6,808.6 L2086.1,809.0 L2089.7,808.2 L2093.2,808.7 L2096.8,809.0 L2100.3,808.3 L2103.8,808.7 L2107.4,809.0 L2110.9,808.5 L2114.5,809.1 L2118.0,808.8 L2121.6,808.6 L2125.3,807.8 L2129.0,807.5 L2132.7,807.3 L2136.4,806.3 L2140.1,805.3 L2143.8,804.9 L2147.5,804.7 L2151.9,804.3 L2156.2,803.4 L2160.5,803.4 L2164.2,801.9 L2167.8,800.6 L2171.4,799.1 L2175.1,798.6 L2178.7,796.9 L2182.9,794.8 L2187.0,792.9 L2191.2,790.4 L2195.3,788.5 L2199.5,786.5" fill="none" stroke="#00AF6A" stroke-width="9.6" stroke-linejoin="round" stroke-linecap="round" shape-rendering="crispEdges"/>
<path d="M240.8,714.5 L244.4,714.8 L248.1,713.6 L251.7,715.7 L255.3,714.4 L259.0,714.5 L264.2,707.3 L268.1,705.2 L271.9,703.4 L275.8,697.2 L279.7,690.4 L286.2,695.6 L292.7,682.6 L296.6,678.0 L300.5,672.2 L304.4,669.1 L308.3,664.4 L314.8,667.0 L318.7,652.7 L323.9,649.1 L329.1,643.6 L334.3,650.1 L340.8,646.2 L344.7,654.0 L348.6,655.5 L352.5,657.9 L357.7,657.9 L362.9,676.1 L369.4,685.2 L375.8,698.2 L382.3,678.7 L388.8,650.1 L392.7,632.8 L396.6,613.8 L401.8,621.6 L407.0,643.6 L413.5,663.1 L417.4,673.5 L421.3,674.1 L425.2,673.5 L429.1,660.4 L433.0,647.5 L436.9,652.9 L440.8,660.5 L446.0,646.2 L451.2,660.5 L457.7,648.8 L461.6,652.5 L465.5,656.6 L471.9,642.3 L475.8,645.8 L479.7,650.1 L484.9,655.3 L490.1,672.2 L495.3,665.7 L500.5,669.2 L505.7,673.5 L509.6,679.1 L513.5,683.9 L517.4,683.8 L521.3,685.2 L525.6,684.9 L530.0,684.9 L534.3,686.5 L539.5,690.4 L544.7,693.0 L549.9,697.0 L555.1,699.5 L559.0,699.6 L562.9,697.5 L566.8,696.3 L570.6,695.6 L575.0,694.8 L579.3,695.0 L583.6,694.3 L587.5,695.9 L591.4,698.2 L595.1,697.8 L598.7,696.9 L602.3,695.7 L606.0,695.3 L609.6,694.3 L613.3,694.3 L617.0,694.0 L620.7,694.2 L624.5,693.9 L628.2,693.8 L631.9,693.9 L635.6,694.3 L639.3,694.4 L643.0,693.8 L646.7,694.4 L650.4,694.7 L654.1,694.8 L657.8,694.1 L661.6,694.3 L665.3,694.4 L669.0,693.2 L672.7,693.6 L676.4,692.3 L680.1,692.7 L683.8,691.9 L687.5,691.7 L691.2,692.3 L695.0,692.4 L698.7,691.8 L702.4,692.6 L706.1,692.6 L709.8,692.7 L713.5,693.0 L717.2,693.1 L720.9,693.2 L724.6,693.8 L728.3,693.9 L732.1,694.3 L735.8,694.2 L739.5,694.3 L743.8,694.2 L748.1,695.4 L752.5,695.6 L756.8,693.6 L761.1,692.0 L765.5,690.4 L769.0,690.6 L772.5,691.5 L776.0,692.2 L779.5,692.2 L783.0,693.0 L786.6,692.0 L790.3,691.1 L793.9,690.4 L797.5,689.4 L801.2,689.1 L805.3,689.3 L809.5,688.6 L813.6,688.6 L817.8,689.1 L821.9,689.1 L825.7,688.5 L829.4,687.9 L833.1,687.7 L836.8,687.2 L840.5,687.4 L844.2,686.7 L847.9,686.5 L851.6,686.2 L855.3,686.8 L859.1,687.0 L862.8,686.8 L866.5,687.0 L870.2,687.6 L873.9,687.8 L877.5,689.2 L881.2,690.7 L884.8,691.5 L888.4,692.9 L892.1,694.3 L895.7,693.3 L899.4,692.0 L903.0,690.6 L906.6,689.1 L910.3,687.8 L914.4,688.0 L918.6,688.5 L922.7,689.3 L926.9,689.4 L931.0,690.4 L935.2,688.8 L939.4,688.0 L943.5,687.7 L947.7,686.8 L951.8,685.2 L955.5,685.2 L959.2,685.7 L962.9,685.2 L966.7,684.8 L970.4,684.7 L974.1,685.1 L977.8,685.2 L981.9,685.1 L986.1,685.3 L990.3,685.1 L994.4,685.7 L998.6,686.0 L1002.2,685.2 L1005.8,684.3 L1009.5,683.6 L1013.1,682.9 L1016.8,682.6 L1020.5,681.9 L1024.2,682.1 L1027.9,682.1 L1031.6,681.4 L1035.3,682.2 L1039.0,681.2 L1042.7,681.3 L1046.4,681.5 L1050.1,681.7 L1053.9,681.0 L1057.6,681.8 L1061.3,681.1 L1065.0,681.9 L1068.7,681.8 L1072.4,681.8 L1076.1,682.1 L1079.8,681.9 L1083.5,681.4 L1087.3,681.7 L1091.0,681.3 L1094.7,681.8 L1099.0,680.9 L1103.3,681.1 L1107.7,680.0 L1111.4,680.1 L1115.1,680.6 L1118.8,680.4 L1122.5,679.5 L1126.2,680.2 L1129.9,680.4 L1133.6,680.0 L1137.3,680.2 L1141.1,679.8 L1144.8,679.1 L1148.5,678.9 L1152.2,679.1 L1155.9,678.5 L1159.6,678.7 L1164.8,680.3 L1170.0,680.8 L1173.9,680.6 L1177.8,679.6 L1181.7,679.4 L1185.6,678.2 L1189.5,679.0 L1193.4,679.0 L1197.3,678.6 L1201.2,679.2 L1205.1,679.4 L1209.0,680.0 L1214.2,674.0 L1219.4,668.3 L1223.2,664.2 L1227.1,660.1 L1231.0,656.6 L1234.9,658.6 L1238.8,660.2 L1242.7,661.8 L1246.6,660.0 L1250.5,658.7 L1254.4,657.9 L1258.3,656.6 L1262.2,660.0 L1266.1,663.1 L1271.3,668.8 L1276.5,674.8 L1280.2,675.1 L1283.9,675.0 L1287.6,674.8 L1291.3,674.1 L1295.0,676.0 L1298.8,675.3 L1302.5,674.8 L1306.0,674.3 L1309.6,675.2 L1313.2,675.9 L1316.8,674.1 L1320.3,676.0 L1323.9,675.1 L1327.5,676.1 L1331.0,676.7 L1334.6,674.7 L1338.2,675.8 L1341.8,673.3 L1345.5,673.4 L1349.1,670.9 L1352.7,671.8 L1356.4,669.4 L1360.3,669.2 L1364.2,669.5 L1368.1,670.9 L1371.9,670.6 L1375.8,670.8 L1379.7,671.2 L1383.6,672.7 L1387.5,673.2 L1392.7,671.7 L1397.9,670.6 L1402.1,671.0 L1406.2,672.3 L1410.4,671.3 L1414.5,673.1 L1418.7,673.2 L1423.9,672.4 L1429.1,673.2 L1434.3,669.2 L1439.5,667.5 L1444.7,668.0 L1449.9,667.5 L1453.8,670.0 L1457.7,670.1 L1461.6,668.7 L1465.5,667.5 L1469.4,668.2 L1473.2,670.1 L1478.4,664.2 L1482.3,665.0 L1486.2,668.1 L1491.4,663.5 L1496.6,659.0 L1501.8,657.4 L1507.0,657.7 L1510.9,661.4 L1514.8,664.2 L1520.0,658.4 L1525.2,653.8 L1531.7,657.7 L1538.2,651.2 L1543.4,652.5 L1548.6,642.1 L1553.8,644.7 L1559.0,652.5 L1564.2,645.6 L1569.4,639.5 L1574.5,633.7 L1579.7,627.8 L1584.9,629.1 L1590.1,631.7 L1595.3,620.0 L1599.2,613.4 L1603.1,607.0 L1607.0,605.6 L1610.9,605.7 L1617.4,614.8 L1623.9,597.9 L1627.8,590.0 L1631.7,582.3 L1635.6,580.9 L1639.5,579.7 L1644.7,595.3 L1649.9,604.4 L1653.8,604.0 L1657.7,601.8 L1662.9,590.1 L1669.4,594.0 L1673.2,616.1 L1677.1,620.0 L1681.0,623.9 L1684.9,630.0 L1688.8,636.9 L1692.7,644.9 L1696.6,652.5 L1700.5,648.9 L1704.4,647.3 L1709.6,616.1 L1713.5,598.8 L1717.4,582.3 L1722.6,559.0 L1726.5,556.2 L1730.4,553.8 L1734.3,547.9 L1738.2,539.5 L1742.1,542.1 L1746.0,543.4 L1751.2,553.8 L1752.7,582.6 L1757.9,595.6 L1763.1,608.6 L1769.6,598.2 L1776.1,593.0 L1781.3,603.4 L1786.5,616.4 L1793.0,621.6 L1798.2,612.5 L1802.1,612.6 L1806.0,613.1 L1809.9,613.8 L1815.1,621.6 L1819.0,622.4 L1822.9,621.6 L1827.2,625.0 L1831.5,628.0 L1835.8,631.9 L1840.2,633.9 L1844.5,637.1 L1848.8,638.4 L1852.7,637.5 L1856.6,634.5 L1860.5,639.9 L1864.4,643.6 L1868.3,642.6 L1872.2,643.6 L1878.7,648.8 L1883.2,646.5 L1887.8,645.5 L1891.5,646.7 L1895.2,645.0 L1898.9,645.3 L1902.6,646.8 L1906.3,646.6 L1910.1,646.9 L1913.8,647.0 L1917.5,646.0 L1921.2,645.9 L1924.9,645.2 L1928.6,644.7 L1932.3,644.8 L1936.0,643.6 L1939.7,643.6 L1943.5,642.2 L1947.2,641.3 L1950.9,639.7 L1954.6,639.0 L1958.3,638.0 L1962.0,636.8 L1965.7,635.8 L1969.9,636.6 L1974.0,636.7 L1978.2,637.0 L1982.3,637.8 L1986.5,637.7 L1990.1,636.9 L1993.8,635.5 L1997.4,635.0 L2001.0,633.5 L2004.7,633.2 L2009.0,632.6 L2013.3,632.8 L2017.7,631.9 L2021.4,631.4 L2025.1,629.7 L2028.8,629.2 L2032.5,627.7 L2036.2,627.9 L2039.9,626.2 L2043.6,625.5 L2047.5,626.5 L2051.4,626.8 L2055.1,628.2 L2058.7,629.7 L2062.3,631.1 L2066.0,632.5 L2069.6,633.2 L2073.5,634.7 L2077.4,635.7 L2081.3,636.4 L2085.2,637.1 L2088.8,637.6 L2092.5,636.7 L2096.1,636.5 L2099.7,636.9 L2103.4,636.4 L2107.0,636.2 L2110.6,636.8 L2114.3,636.5 L2117.9,636.2 L2121.6,635.8 L2125.3,635.3 L2129.0,635.6 L2132.7,634.9 L2136.4,633.9 L2140.1,634.1 L2143.8,633.9 L2147.5,633.2 L2151.2,632.2 L2154.8,632.1 L2158.4,631.5 L2162.1,629.6 L2165.7,629.4 L2169.9,628.3 L2174.0,625.9 L2178.2,625.0 L2182.3,624.1 L2186.5,622.1 L2190.8,620.1 L2195.2,618.1 L2199.5,616.4" fill="none" stroke="#C27AE4" stroke-width="9.6" stroke-linejoin="round" stroke-linecap="round" shape-rendering="crispEdges"/>
<path d="M240.8,520.0 L244.4,520.8 L248.1,520.9 L251.7,520.1 L255.3,520.7 L259.0,520.0 L265.5,510.9 L271.9,508.3 L275.8,502.3 L279.7,494.0 L286.2,500.5 L292.7,487.5 L296.6,482.7 L300.5,477.1 L304.4,470.7 L308.3,466.8 L312.2,467.7 L316.1,469.4 L318.7,453.8 L323.9,449.3 L329.1,446.0 L334.3,451.2 L339.5,448.6 L343.4,457.7 L349.9,462.9 L353.8,464.5 L357.7,464.2 L361.6,475.4 L365.5,484.9 L370.6,494.7 L375.8,504.4 L382.3,479.7 L388.8,448.6 L392.7,430.4 L396.6,412.2 L401.8,425.2 L407.0,448.6 L413.5,474.5 L418.7,479.7 L425.2,477.1 L429.1,462.2 L433.0,448.6 L436.9,455.7 L440.8,461.6 L446.0,449.9 L451.2,464.2 L455.1,458.4 L459.0,453.8 L462.9,456.1 L466.8,460.3 L471.9,443.4 L475.8,447.0 L479.7,452.5 L484.9,459.0 L490.1,477.1 L495.3,470.6 L499.2,474.9 L503.1,477.1 L508.3,484.7 L513.5,492.7 L518.7,492.4 L523.9,490.1 L529.1,491.4 L534.3,491.4 L538.2,494.8 L542.1,499.2 L546.4,499.9 L550.7,502.7 L555.1,504.4 L559.0,504.4 L562.9,503.6 L566.8,502.9 L570.6,501.8 L575.0,500.8 L579.3,500.9 L583.6,500.5 L588.0,500.4 L592.3,501.0 L596.6,500.5 L600.3,499.8 L604.0,499.6 L607.8,498.6 L611.5,498.6 L615.2,498.9 L618.9,498.2 L622.6,497.4 L626.3,497.5 L630.0,499.1 L633.7,499.2 L637.4,500.5 L641.2,500.5 L644.9,501.5 L648.6,501.8 L652.1,501.1 L655.7,501.1 L659.2,502.0 L662.7,501.5 L666.3,501.5 L669.8,500.8 L673.4,501.4 L676.9,500.4 L680.4,500.9 L684.0,500.1 L687.5,500.5 L691.2,500.4 L695.0,501.3 L698.7,500.7 L702.4,500.4 L706.1,500.9 L709.8,501.1 L713.5,500.9 L717.2,501.4 L720.9,501.9 L724.6,500.9 L728.3,501.9 L732.1,501.1 L735.8,501.3 L739.5,501.8 L743.1,501.2 L746.7,501.5 L750.4,501.9 L754.0,501.7 L757.6,502.1 L761.3,501.5 L764.9,502.1 L768.5,501.7 L772.1,501.1 L775.8,501.1 L779.4,502.1 L783.0,501.3 L786.7,501.4 L790.3,501.5 L793.9,501.9 L797.5,501.9 L801.2,501.4 L804.8,500.7 L808.4,501.4 L812.0,500.6 L815.6,500.8 L819.2,500.4 L822.7,500.2 L826.3,499.5 L829.9,498.9 L833.5,499.0 L837.1,498.7 L840.7,499.1 L844.3,498.2 L847.9,498.1 L851.6,498.6 L855.3,499.3 L859.1,499.2 L862.8,500.1 L866.5,500.2 L870.2,501.4 L873.9,501.4 L877.8,502.5 L881.7,502.3 L885.6,503.9 L889.5,504.0 L893.4,503.3 L897.3,501.5 L901.2,500.3 L905.1,498.8 L909.2,499.4 L913.4,499.3 L917.5,499.4 L921.7,500.2 L925.8,500.6 L929.6,499.6 L933.3,499.4 L937.0,499.1 L940.7,498.2 L944.4,498.1 L948.1,497.9 L951.8,497.3 L955.5,497.1 L959.2,497.5 L962.9,496.9 L966.7,496.8 L970.4,496.7 L974.1,497.2 L977.8,497.1 L981.5,496.8 L985.2,496.7 L988.9,496.9 L992.6,497.0 L996.3,496.6 L1000.1,496.5 L1003.8,496.8 L1007.5,496.3 L1011.2,496.2 L1014.9,497.0 L1018.6,496.6 L1022.3,496.2 L1026.0,495.9 L1029.7,496.1 L1033.5,495.6 L1037.2,496.3 L1040.9,496.2 L1044.6,496.1 L1048.3,495.9 L1052.0,495.6 L1055.7,495.5 L1059.6,496.7 L1063.5,497.1 L1067.4,497.7 L1071.3,498.6 L1074.9,497.7 L1078.6,497.7 L1082.2,497.0 L1085.8,497.3 L1089.5,496.6 L1093.1,496.1 L1096.8,495.6 L1100.4,495.0 L1104.0,494.9 L1107.7,494.7 L1111.4,494.9 L1115.1,494.4 L1118.8,494.9 L1122.5,495.1 L1126.2,494.6 L1129.9,494.6 L1133.6,494.9 L1137.3,494.2 L1141.1,494.6 L1144.8,494.8 L1148.5,494.4 L1152.2,494.1 L1155.9,494.5 L1159.6,494.7 L1163.3,494.6 L1167.0,493.4 L1170.7,493.7 L1174.5,493.5 L1178.2,492.4 L1181.9,492.3 L1185.6,491.6 L1189.5,491.8 L1193.4,492.6 L1197.3,493.5 L1201.2,493.5 L1205.1,494.2 L1209.0,494.7 L1214.2,489.4 L1219.4,483.8 L1224.5,475.3 L1229.7,466.9 L1234.1,468.9 L1238.4,471.5 L1242.7,473.4 L1247.1,472.2 L1251.4,471.0 L1255.7,469.5 L1259.6,470.4 L1263.5,472.1 L1267.1,476.5 L1270.6,480.8 L1274.2,485.5 L1277.8,489.5 L1281.3,490.1 L1284.8,489.2 L1288.4,490.0 L1291.9,489.1 L1295.4,490.7 L1298.9,489.4 L1302.5,489.5 L1306.0,489.8 L1309.5,487.6 L1313.1,487.5 L1316.6,487.7 L1320.1,486.4 L1323.7,486.8 L1327.2,486.1 L1330.7,485.7 L1334.2,484.6 L1337.8,483.9 L1341.3,484.1 L1344.8,483.9 L1348.4,482.5 L1351.9,484.3 L1355.4,483.9 L1359.0,482.3 L1362.7,481.7 L1366.4,483.8 L1370.1,482.8 L1373.8,483.4 L1377.5,484.8 L1381.2,484.4 L1384.9,486.2 L1388.6,485.6 L1392.4,484.9 L1396.1,483.9 L1399.8,483.5 L1403.5,484.0 L1407.2,483.7 L1410.9,483.6 L1414.5,483.3 L1418.2,483.2 L1421.8,483.6 L1425.5,483.8 L1429.1,484.9 L1433.2,484.1 L1437.4,481.7 L1441.6,481.4 L1445.7,481.4 L1449.9,479.7 L1453.5,481.0 L1457.1,479.1 L1460.8,481.5 L1464.4,481.5 L1468.1,481.0 L1473.2,479.4 L1478.4,475.8 L1482.3,477.1 L1486.2,479.7 L1491.4,477.0 L1496.6,471.9 L1501.8,473.2 L1507.0,471.9 L1512.2,474.9 L1517.4,478.4 L1521.3,471.8 L1525.2,466.8 L1529.1,465.6 L1533.0,466.8 L1536.9,466.7 L1540.8,464.2 L1544.7,460.1 L1548.6,453.8 L1553.8,458.3 L1559.0,464.2 L1564.2,460.2 L1569.4,453.8 L1574.5,446.3 L1579.7,440.8 L1584.9,441.9 L1590.1,443.4 L1595.3,434.6 L1600.5,425.2 L1605.7,414.8 L1610.9,413.7 L1616.1,414.8 L1621.3,425.2 L1625.2,414.1 L1629.1,404.4 L1634.3,388.8 L1638.2,388.3 L1642.1,387.5 L1648.6,414.8 L1653.1,414.5 L1657.7,412.2 L1662.9,401.8 L1666.8,402.1 L1670.6,404.4 L1675.8,427.8 L1681.0,432.4 L1686.2,438.2 L1690.1,451.8 L1694.0,464.2 L1698.7,460.8 L1703.4,457.1 L1708.6,426.0 L1713.8,405.2 L1719.0,376.6 L1724.2,363.6 L1728.1,362.5 L1731.9,361.0 L1738.4,348.1 L1743.0,349.0 L1747.5,350.6 L1752.7,368.8 L1755.3,394.8 L1760.5,407.8 L1764.4,423.4 L1769.6,410.4 L1776.1,406.5 L1782.6,422.1 L1789.1,433.8 L1794.3,436.4 L1798.2,428.6 L1802.1,427.7 L1806.0,430.1 L1809.9,429.9 L1813.8,434.3 L1817.7,436.4 L1821.6,437.7 L1825.5,439.0 L1829.4,442.5 L1833.2,446.8 L1837.6,447.1 L1841.9,449.3 L1846.2,449.4 L1851.4,453.2 L1855.3,451.8 L1859.2,449.4 L1863.1,454.4 L1867.0,459.7 L1872.2,462.1 L1877.4,462.3 L1882.6,459.8 L1887.8,459.7 L1891.5,459.6 L1895.2,460.7 L1898.9,461.5 L1902.6,460.6 L1906.3,461.2 L1910.1,460.8 L1913.8,461.0 L1917.5,460.7 L1921.2,460.1 L1924.9,460.1 L1928.6,460.0 L1932.3,459.1 L1936.0,458.4 L1939.7,458.4 L1943.9,457.5 L1948.1,455.9 L1952.2,455.0 L1956.4,453.0 L1960.5,451.9 L1965.7,451.3 L1970.9,450.6 L1975.1,450.3 L1979.2,450.7 L1983.4,450.5 L1987.5,450.0 L1991.7,449.4 L1996.0,449.0 L2000.3,447.2 L2004.7,446.8 L2009.0,446.2 L2013.3,445.6 L2017.7,445.5 L2021.4,444.8 L2025.1,443.8 L2028.8,442.0 L2032.5,441.0 L2036.2,440.2 L2039.9,439.3 L2043.6,438.4 L2047.5,440.0 L2051.4,441.6 L2055.1,443.2 L2058.7,444.3 L2062.3,446.2 L2066.0,447.5 L2069.6,449.4 L2073.3,450.3 L2077.0,450.3 L2080.7,451.1 L2084.5,451.0 L2088.2,452.7 L2091.9,452.3 L2095.6,453.2 L2099.3,453.5 L2103.0,453.4 L2106.7,452.6 L2110.4,452.1 L2114.1,452.2 L2117.8,451.7 L2121.6,451.9 L2125.3,451.4 L2129.0,451.8 L2132.7,451.3 L2136.4,450.3 L2140.1,449.9 L2143.8,450.1 L2147.5,449.9 L2151.2,449.3 L2154.8,449.0 L2158.4,449.2 L2162.1,448.6 L2165.7,448.1 L2169.9,446.3 L2174.0,444.9 L2178.2,443.6 L2182.3,441.7 L2186.5,440.3 L2190.8,439.0 L2195.2,436.5 L2199.5,435.1" fill="none" stroke="#DC9C00" stroke-width="9.6" stroke-linejoin="round" stroke-linecap="round" shape-rendering="crispEdges"/>
<path d="M240.8,327.8 L244.4,328.3 L248.1,327.6 L251.7,328.1 L255.3,327.8 L259.0,327.8 L262.6,326.8 L266.3,325.8 L270.0,324.7 L273.7,322.9 L277.4,322.6 L281.0,321.3 L287.5,323.4 L292.7,319.4 L297.9,314.8 L302.3,313.7 L306.6,312.2 L310.9,311.4 L314.8,308.6 L318.7,307.0 L323.0,306.3 L327.4,306.2 L331.7,305.7 L335.6,304.5 L339.5,304.4 L343.4,306.0 L347.3,307.3 L351.2,307.7 L355.1,309.6 L359.6,313.3 L364.2,316.1 L367.9,319.0 L371.6,322.3 L375.3,325.2 L379.0,319.5 L382.6,313.3 L386.2,308.3 L391.2,302.5 L396.1,297.9 L400.3,300.7 L404.4,304.4 L409.4,310.3 L414.3,317.4 L418.4,315.9 L422.6,313.5 L427.8,307.4 L433.0,300.5 L439.5,303.1 L446.0,301.0 L452.5,303.6 L457.7,300.0 L464.2,303.6 L468.1,298.3 L471.9,293.2 L475.8,293.3 L479.7,294.0 L484.9,300.3 L490.1,305.7 L494.0,305.9 L497.9,305.4 L501.8,306.2 L505.7,305.7 L510.9,308.3 L516.1,309.6 L520.0,308.4 L523.9,308.8 L527.8,307.3 L531.7,307.0 L535.4,306.2 L539.1,306.6 L542.8,306.5 L546.5,305.9 L550.2,305.2 L554.0,304.9 L557.7,304.4 L561.4,302.7 L565.1,301.5 L568.8,300.0 L572.5,298.3 L576.2,296.8 L579.9,295.4 L583.6,294.0 L587.3,293.2 L591.1,292.8 L594.8,292.4 L598.5,291.8 L602.2,291.5 L605.9,290.9 L609.6,290.1 L613.5,290.3 L617.4,290.4 L621.3,290.1 L625.2,290.1 L628.8,290.7 L632.5,291.3 L636.1,292.3 L639.7,292.4 L643.4,293.1 L647.0,294.0 L650.6,294.9 L654.3,295.5 L657.9,296.2 L661.6,296.6 L665.1,297.1 L668.6,297.4 L672.2,298.0 L675.7,298.8 L679.3,298.9 L682.8,299.3 L686.4,299.7 L689.9,300.1 L693.4,300.9 L697.0,301.1 L700.5,301.8 L704.1,302.3 L707.6,303.0 L711.1,303.3 L714.7,303.8 L718.2,304.1 L721.8,304.9 L725.3,305.2 L728.9,305.4 L732.4,306.0 L735.9,306.6 L739.5,307.0 L743.1,307.1 L746.8,307.1 L750.5,307.4 L754.1,308.0 L757.8,308.0 L761.5,308.4 L765.1,308.5 L768.8,308.6 L772.5,308.5 L776.1,309.0 L779.8,309.2 L783.5,309.3 L787.1,309.6 L790.8,309.7 L794.7,309.8 L798.6,310.0 L802.5,310.4 L806.4,310.6 L810.3,310.8 L814.2,311.1 L818.1,311.4 L821.9,311.6 L825.5,311.5 L829.1,311.9 L832.7,311.7 L836.2,312.2 L839.8,312.0 L843.4,312.1 L846.9,312.2 L850.5,312.3 L854.1,312.5 L857.7,312.5 L861.2,312.4 L864.8,312.5 L868.4,312.4 L871.9,312.2 L875.5,312.1 L879.1,312.3 L883.0,311.2 L886.9,310.3 L890.8,308.9 L894.7,307.7 L899.0,308.8 L903.3,310.0 L907.7,311.0 L911.2,311.0 L914.8,310.6 L918.4,310.6 L921.9,309.9 L925.5,310.1 L929.1,309.8 L932.7,309.2 L936.2,309.2 L940.1,309.8 L944.0,310.7 L947.9,311.7 L951.8,312.3 L955.5,312.1 L959.2,312.2 L962.9,312.2 L966.7,312.3 L970.4,312.5 L974.1,312.5 L977.8,312.1 L981.5,312.6 L985.2,312.4 L988.9,312.4 L992.6,312.5 L996.3,312.3 L1000.1,312.6 L1003.8,312.3 L1007.5,312.6 L1011.2,312.1 L1014.9,312.1 L1018.6,312.4 L1022.3,312.5 L1026.0,312.1 L1029.7,312.5 L1033.5,312.2 L1037.2,312.6 L1040.9,312.1 L1044.6,312.1 L1048.3,312.4 L1052.0,312.3 L1055.7,312.3 L1059.4,312.6 L1063.1,312.4 L1066.8,312.5 L1070.6,312.5 L1074.3,312.5 L1078.0,312.3 L1081.7,312.3 L1085.2,312.3 L1088.8,312.0 L1092.3,312.0 L1095.9,312.2 L1099.4,311.9 L1102.9,311.8 L1106.5,311.8 L1110.0,311.8 L1113.6,311.9 L1117.1,312.1 L1120.6,311.8 L1124.2,311.8 L1127.7,311.9 L1131.3,312.1 L1134.8,312.2 L1138.4,311.8 L1141.9,312.3 L1145.4,312.4 L1149.0,312.3 L1152.5,312.0 L1156.1,312.2 L1159.6,312.3 L1163.2,312.6 L1166.8,312.6 L1170.4,312.4 L1174.0,312.6 L1177.6,312.3 L1181.2,312.1 L1184.8,312.6 L1188.4,312.4 L1192.0,312.0 L1195.6,312.4 L1199.2,312.2 L1202.8,312.5 L1206.4,312.3 L1210.3,311.0 L1214.2,309.7 L1218.1,308.5 L1221.9,307.2 L1225.8,305.7 L1229.7,304.5 L1233.6,304.9 L1237.5,305.5 L1241.4,305.8 L1245.3,306.6 L1249.7,305.8 L1254.0,304.7 L1258.3,304.0 L1262.2,305.6 L1266.1,307.0 L1270.0,308.6 L1273.9,310.3 L1277.5,310.2 L1281.0,310.7 L1284.6,310.4 L1288.2,310.4 L1291.8,310.2 L1295.3,310.3 L1298.9,310.3 L1302.5,311.0 L1306.2,311.5 L1309.9,311.6 L1313.6,310.9 L1317.3,311.7 L1321.1,311.6 L1324.8,311.0 L1328.5,311.5 L1332.2,311.5 L1335.9,311.6 L1339.7,311.0 L1343.4,311.4 L1346.9,310.6 L1350.5,311.1 L1354.1,310.4 L1357.7,310.2 L1361.2,309.1 L1364.8,308.9 L1368.4,308.8 L1371.9,308.3 L1375.7,307.7 L1379.5,307.9 L1383.2,308.3 L1387.0,307.4 L1390.7,307.1 L1394.5,307.9 L1398.2,307.2 L1402.0,307.5 L1405.7,307.0 L1409.5,307.0 L1413.2,307.4 L1417.0,308.0 L1420.7,308.0 L1424.5,307.6 L1428.2,308.4 L1432.0,308.5 L1435.7,308.4 L1439.5,308.8 L1443.4,308.5 L1447.3,309.1 L1451.2,309.8 L1455.1,308.9 L1459.0,309.7 L1462.9,309.2 L1466.8,309.1 L1470.6,309.6 L1474.3,308.2 L1477.9,307.5 L1481.6,307.4 L1485.2,305.9 L1488.8,305.7 L1492.5,305.4 L1496.3,306.1 L1500.0,305.1 L1503.7,305.8 L1507.4,304.8 L1511.1,305.4 L1514.8,305.2 L1519.1,303.5 L1523.5,302.4 L1527.8,301.8 L1531.5,301.0 L1535.2,300.2 L1538.9,299.5 L1542.6,299.2 L1546.3,299.0 L1550.1,298.7 L1553.8,297.9 L1557.7,298.8 L1561.6,300.5 L1565.2,298.4 L1568.8,297.3 L1572.5,295.4 L1576.1,292.9 L1579.7,291.4 L1584.1,290.8 L1588.4,291.5 L1592.7,291.4 L1597.9,287.6 L1603.1,283.6 L1607.4,283.4 L1611.8,283.8 L1616.1,283.6 L1620.0,280.3 L1623.9,277.3 L1627.8,275.0 L1631.7,271.9 L1636.9,270.3 L1642.1,269.4 L1647.3,274.5 L1651.2,271.8 L1655.1,268.2 L1659.0,266.2 L1662.9,262.9 L1669.4,264.2 L1675.8,271.9 L1680.2,272.2 L1684.5,273.4 L1688.8,273.2 L1694.0,278.0 L1699.2,282.3 L1702.1,282.6 L1708.6,275.3 L1712.5,270.0 L1716.4,264.9 L1721.6,257.1 L1726.8,255.5 L1731.9,254.5 L1738.4,249.4 L1743.6,249.2 L1748.8,249.4 L1755.3,259.7 L1759.2,264.8 L1763.1,268.8 L1767.0,265.2 L1770.9,262.3 L1777.4,260.3 L1781.9,264.4 L1786.5,268.1 L1790.4,268.5 L1794.3,270.1 L1799.5,267.5 L1803.8,268.4 L1808.1,267.9 L1812.5,268.8 L1816.4,270.2 L1820.3,271.3 L1824.2,272.6 L1828.1,273.4 L1831.9,274.8 L1835.8,275.3 L1839.6,276.1 L1843.3,276.7 L1847.0,276.6 L1850.7,277.6 L1854.4,278.6 L1858.1,278.2 L1861.8,279.2 L1865.7,279.1 L1869.6,279.9 L1873.5,280.1 L1877.4,281.0 L1881.3,281.4 L1885.2,280.9 L1889.1,281.1 L1893.0,281.4 L1896.9,281.4 L1900.8,281.0 L1904.5,280.9 L1908.2,280.2 L1911.9,280.0 L1915.6,279.4 L1919.3,279.3 L1923.0,278.6 L1926.8,278.4 L1930.4,277.5 L1934.0,277.0 L1937.7,275.8 L1941.3,275.0 L1944.9,274.0 L1948.8,271.8 L1952.7,269.5 L1956.6,267.5 L1960.5,264.9 L1965.7,262.6 L1970.9,260.3 L1975.1,260.5 L1979.2,260.5 L1983.4,260.1 L1987.5,260.5 L1991.7,260.3 L1995.8,260.7 L2000.0,260.9 L2004.2,261.5 L2008.3,261.8 L2012.5,262.3 L2016.8,261.5 L2021.1,260.9 L2025.5,259.7 L2029.1,258.4 L2032.7,256.9 L2036.4,255.6 L2040.0,254.4 L2043.6,253.2 L2047.5,254.0 L2051.4,255.1 L2055.1,257.1 L2058.7,259.3 L2062.3,261.6 L2066.0,264.1 L2069.6,266.2 L2073.5,267.8 L2077.4,269.0 L2081.3,270.0 L2085.2,271.4 L2088.9,271.5 L2092.6,272.1 L2096.3,271.8 L2100.0,272.2 L2103.7,272.2 L2107.5,272.7 L2111.2,272.7 L2114.9,272.6 L2118.6,272.5 L2122.3,272.4 L2126.0,272.2 L2129.7,271.5 L2133.4,271.6 L2137.1,271.4 L2141.0,271.5 L2144.9,271.4 L2148.8,271.7 L2152.7,271.3 L2156.6,271.4 L2160.5,271.4 L2164.2,270.2 L2167.8,268.7 L2171.4,267.3 L2175.1,266.4 L2178.7,264.9 L2183.9,262.1 L2189.1,259.7 L2194.3,256.2 L2199.5,253.2" fill="none" stroke="#00CCCC" stroke-width="9.6" stroke-linejoin="round" stroke-linecap="round" shape-rendering="crispEdges"/>
<line x1="362" y1="248.5" x2="508" y2="248.5" stroke="#00008C" stroke-width="7.8" stroke-dasharray="8 4.5" stroke-opacity="0.85"/>
<line x1="366" y1="245" x2="366" y2="1282" stroke="#00008C" stroke-width="7.8" stroke-dasharray="8 4.5" stroke-opacity="0.85"/>
<line x1="507.4" y1="252" x2="507.4" y2="1273" stroke="#00008C" stroke-width="7.8" stroke-dasharray="8 4.5" stroke-opacity="0.85"/>
<line x1="370" y1="1278.5" x2="508" y2="1278.5" stroke="#00008C" stroke-width="7.8" stroke-dasharray="8 4.5" stroke-opacity="0.85"/>
<line x1="611.3" y1="265.5" x2="611.3" y2="1282" stroke="#0000C8" stroke-width="7.8" stroke-dasharray="7.5 5" stroke-opacity="0.85"/>
<line x1="1596" y1="241.5" x2="1690" y2="241.5" stroke="#0000C8" stroke-width="7.8" stroke-dasharray="8 4.5" stroke-opacity="0.85"/>
<line x1="1599.5" y1="246" x2="1599.5" y2="1235" stroke="#0000C8" stroke-width="7.8" stroke-dasharray="8 4.5" stroke-opacity="0.85"/>
<line x1="1686.5" y1="246" x2="1686.5" y2="1234" stroke="#0000C8" stroke-width="7.8" stroke-dasharray="8 4.5" stroke-opacity="0.85"/>
<line x1="1607" y1="1240" x2="1689" y2="1240" stroke="#0000C8" stroke-width="7.8" stroke-dasharray="8 4.5" stroke-opacity="0.85"/>
<line x1="1738.8" y1="235" x2="1738.8" y2="1251" stroke="#0000C8" stroke-width="7.8" stroke-dasharray="7.5 5.5" stroke-opacity="0.85"/>
<line x1="2043" y1="223" x2="2043" y2="1240" stroke="#0000C8" stroke-width="7.8" stroke-dasharray="7.5 6" stroke-opacity="0.85"/>
<path d="M176,20H2241V1544H176Z M183,27V1537H2233V27Z" fill="#000" fill-rule="evenodd"/>
<rect x="237" y="1540" width="7" height="36" fill="#000"/>
<rect x="388" y="1540" width="7" height="19" fill="#000"/>
<rect x="540" y="1540" width="7" height="36" fill="#000"/>
<rect x="691" y="1540" width="7" height="19" fill="#000"/>
<rect x="842" y="1540" width="7" height="36" fill="#000"/>
<rect x="993" y="1540" width="7" height="19" fill="#000"/>
<rect x="1144" y="1540" width="7" height="36" fill="#000"/>
<rect x="1296" y="1540" width="7" height="19" fill="#000"/>
<rect x="1447" y="1540" width="7" height="36" fill="#000"/>
<rect x="1598" y="1540" width="7" height="19" fill="#000"/>
<rect x="1750" y="1540" width="7" height="36" fill="#000"/>
<rect x="1901" y="1540" width="7" height="19" fill="#000"/>
<rect x="2052" y="1540" width="7" height="36" fill="#000"/>
<rect x="2203" y="1540" width="7" height="19" fill="#000"/>
<text transform="translate(240.5,1660.0) scale(1,1.03)" font-size="77.5" text-anchor="middle">4000</text>
<text transform="translate(543.0,1660.0) scale(1,1.03)" font-size="77.5" text-anchor="middle">3500</text>
<text transform="translate(845.5,1660.0) scale(1,1.03)" font-size="77.5" text-anchor="middle">3000</text>
<text transform="translate(1148.0,1660.0) scale(1,1.03)" font-size="77.5" text-anchor="middle">2500</text>
<text transform="translate(1450.5,1660.0) scale(1,1.03)" font-size="77.5" text-anchor="middle">2000</text>
<text transform="translate(1753.0,1660.0) scale(1,1.03)" font-size="77.5" text-anchor="middle">1500</text>
<text transform="translate(2055.5,1660.0) scale(1,1.03)" font-size="77.5" text-anchor="middle">1000</text>
<text x="794.0" y="1771.0" font-size="85" font-weight="bold" letter-spacing="1.1">Wavenumber</text>
<text transform="translate(1281.5,1768.8) scale(1.1,0.865)" font-size="85" font-family="Noto Serif CJK SC">（</text>
<text x="1378.0" y="1771.0" font-size="85" font-weight="bold">cm</text>
<text x="1487.0" y="1735.5" font-size="59" font-weight="bold">-1</text>
<text transform="translate(1540.2,1768.6) scale(1.12,0.87)" font-size="85" font-family="Noto Serif CJK SC">）</text>
<text transform="translate(104,781) rotate(-90)" font-size="85" font-weight="bold" text-anchor="middle">Absorbance</text>
<text transform="translate(363.0,144.0) scale(1,1.025)" font-size="60">Si-OH</text>
<text transform="translate(579.0,148.0) scale(1,1.025)" font-size="60">O-H stretching</text>
<text transform="translate(1234.4,158.4) scale(1,1.025)" font-size="60">O-H stretching</text>
<text transform="translate(1762.8,159.0) scale(1,1.04)" font-size="60">CO</text>
<text x="1845.7" y="174.0" font-size="41">3</text>
<text x="1865.5" y="133.5" font-size="41">2-</text>
<text transform="translate(2045.0,145.6) scale(1,1.025)" font-size="60">Si-OH</text>
<line x1="436.3" y1="160.0" x2="434.5" y2="201.1" stroke="#000" stroke-width="5"/>
<polygon points="432.0,257.0 419.6,198.4 449.6,199.7" fill="#000"/>
<line x1="653.5" y1="177.8" x2="643.3" y2="203.0" stroke="#000" stroke-width="5"/>
<polygon points="622.4,254.9 630.2,195.5 658.0,206.7" fill="#000"/>
<line x1="1449.6" y1="163.7" x2="1554.2" y2="218.3" stroke="#000" stroke-width="5"/>
<polygon points="1603.8,244.2 1545.4,230.7 1559.3,204.1" fill="#000"/>
<line x1="1802.7" y1="161.4" x2="1773.6" y2="188.4" stroke="#000" stroke-width="5"/>
<polygon points="1732.6,226.5 1764.9,176.0 1785.3,198.0" fill="#000"/>
<line x1="2113.2" y1="164.6" x2="2084.1" y2="191.6" stroke="#000" stroke-width="5"/>
<polygon points="2043.1,229.7 2075.4,179.2 2095.8,201.2" fill="#000"/>
<line x1="239.5" y1="1381.4" x2="392.5" y2="1381.4" stroke="#00CCCC" stroke-width="9.2" stroke-linecap="round"/>
<text transform="translate(408.5,1404.0) scale(1,1.02)" font-size="68.5">S<tspan font-size="46" dy="18">3</tspan><tspan dy="-18">-FMOC</tspan></text>
<line x1="739.5" y1="1381.4" x2="892.5" y2="1381.4" stroke="#DC9C00" stroke-width="9.2" stroke-linecap="round"/>
<text transform="translate(908.5,1404.0) scale(1,1.02)" font-size="68.5">S<tspan font-size="46" dy="18">2</tspan><tspan dy="-18">-FMOC</tspan></text>
<line x1="1238.5" y1="1381.4" x2="1391.5" y2="1381.4" stroke="#C27AE4" stroke-width="9.2" stroke-linecap="round"/>
<text transform="translate(1407.5,1404.0) scale(1,1.02)" font-size="68.5">S<tspan font-size="46" dy="18">1</tspan><tspan dy="-18">-FMOC</tspan></text>
<line x1="239.5" y1="1480.5" x2="392.5" y2="1480.5" stroke="#00AF6A" stroke-width="9.2" stroke-linecap="round"/>
<text transform="translate(408.5,1503.0) scale(1,1.02)" font-size="68.5">S<tspan font-size="46" dy="18">0.5</tspan><tspan dy="-18">-FMOC</tspan></text>
<line x1="739.5" y1="1480.5" x2="892.5" y2="1480.5" stroke="#0072E4" stroke-width="9.2" stroke-linecap="round"/>
<text transform="translate(908.5,1503.0) scale(1,1.02)" font-size="68.5">S<tspan font-size="46" dy="18">0.1</tspan><tspan dy="-18">-FMOC</tspan></text>
<line x1="1238.5" y1="1480.5" x2="1391.5" y2="1480.5" stroke="#FF4040" stroke-width="9.2" stroke-linecap="round"/>
<text transform="translate(1407.5,1503.0) scale(1,1.02)" font-size="68.5">F<tspan font-size="46" dy="18">20</tspan><tspan dy="-18">-MOC</tspan></text>
<line x1="1687.5" y1="1480.5" x2="1840.5" y2="1480.5" stroke="#767676" stroke-width="9.2" stroke-linecap="round"/>
<text transform="translate(1856.5,1503.0) scale(1,1.02)" font-size="68.5">MOC</text>
</svg></body></html>
